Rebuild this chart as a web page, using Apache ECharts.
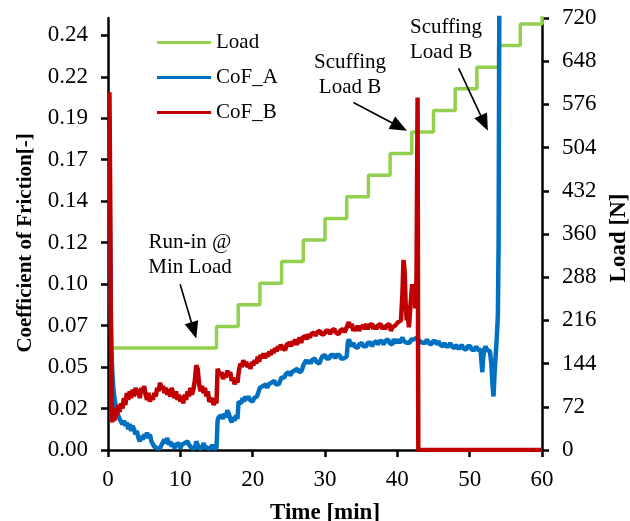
<!DOCTYPE html>
<html><head><meta charset="utf-8">
<script src="https://cdn.jsdelivr.net/npm/echarts@6/dist/echarts.min.js"></script>
<style>html,body{margin:0;padding:0;background:#fff}#c{width:630px;height:521px}</style>
</head><body><div id="c"></div>
<script>
// ---- data ----
const xTicks = [0, 10, 20, 30, 40, 50, 60];
const cofTicks = [0, 0.024, 0.048, 0.072, 0.096, 0.12, 0.144, 0.168, 0.192, 0.216, 0.24];
const loadTicks = [0, 72, 144, 216, 288, 360, 432, 504, 576, 648, 720];

// Load steps [time min, load N] (step holds value until next time)
const loadSteps = [[0.6,170],[15,206],[18,242],[21,278],[24,314],[27,350],[30,386],[33,422],[36,458],[39,494],[42,530],[45,566],[48,602],[51,638],[54,674],[57,710],[60,746]];

const cofA = [[0.2,0.165],[0.3,0.12],[0.4,0.075],[0.5,0.055],[0.6,0.045],[0.75,0.035],[0.9,0.03],[1.05,0.026],[1.2,0.024],[1.4,0.02],[1.6,0.018],[1.8,0.019],[2.0,0.015],[2.2,0.017],[2.4,0.014],[2.6,0.016],[2.8,0.012],[3.0,0.015],[3.2,0.011],[3.4,0.014],[3.6,0.012],[3.8,0.009],[4.0,0.011],[4.2,0.007],[4.4,0.005],[4.6,0.008],[4.8,0.006],[5.0,0.009],[5.2,0.007],[5.4,0.01],[5.6,0.007],[5.8,0.009],[6.0,0.005],[6.2,0.004],[6.4,0.002],[6.6,0.003],[6.8,0.001],[7.0,0.002],[7.2,0.001],[7.4,0.003],[7.6,0.002],[7.8,0.006],[8.0,0.004],[8.2,0.007],[8.4,0.003],[8.6,0.005],[8.8,0.002],[9.0,0.004],[9.2,0.001],[9.4,0.003],[9.6,0.002],[9.8,0.004],[10.0,0.001],[10.2,0.003],[10.4,0.002],[10.6,0.004],[10.8,0.003],[11.0,0.005],[11.2,0.003],[11.4,0.004],[11.6,0.001],[11.8,0.002],[12.0,0.001],[12.2,0.005],[12.4,0.003],[12.6,0.001],[12.8,0.002],[13.0,0.001],[13.2,0.004],[13.4,0.002],[13.6,0.003],[13.8,0.001],[14.0,0.002],[14.2,0.001],[14.4,0.003],[14.6,0.001],[14.8,0.002],[15.0,0.001],[15.15,0.017],[15.3,0.019],[15.5,0.018],[15.7,0.02],[15.9,0.018],[16.1,0.021],[16.3,0.019],[16.5,0.023],[16.7,0.021],[16.9,0.018],[17.1,0.016],[17.3,0.019],[17.5,0.017],[17.7,0.02],[17.9,0.018],[18.05,0.028],[18.2,0.029],[18.4,0.027],[18.6,0.03],[18.8,0.028],[19.0,0.031],[19.2,0.029],[19.4,0.031],[19.6,0.029],[19.8,0.03],[20.0,0.028],[20.2,0.03],[20.4,0.029],[20.6,0.031],[20.8,0.03],[21.0,0.036],[21.2,0.035],[21.4,0.037],[21.6,0.036],[21.8,0.038],[22.0,0.036],[22.2,0.038],[22.4,0.037],[22.6,0.039],[22.8,0.038],[23.0,0.04],[23.2,0.038],[23.4,0.039],[23.6,0.038],[23.8,0.04],[24.0,0.042],[24.2,0.043],[24.4,0.042],[24.6,0.044],[24.8,0.043],[25.0,0.045],[25.2,0.043],[25.4,0.045],[25.6,0.044],[25.8,0.046],[26.0,0.045],[26.2,0.047],[26.4,0.045],[26.6,0.044],[26.8,0.046],[27.0,0.049],[27.2,0.05],[27.4,0.052],[27.6,0.05],[27.8,0.052],[28.0,0.05],[28.2,0.052],[28.4,0.051],[28.6,0.053],[28.8,0.051],[29.0,0.052],[29.2,0.05],[29.4,0.052],[29.6,0.054],[29.8,0.053],[30.0,0.055],[30.2,0.053],[30.4,0.054],[30.6,0.053],[30.8,0.055],[31.0,0.054],[31.2,0.055],[31.4,0.053],[31.6,0.055],[31.8,0.054],[32.0,0.055],[32.2,0.053],[32.4,0.054],[32.6,0.053],[32.8,0.052],[33.0,0.054],[33.15,0.062],[33.3,0.064],[33.5,0.062],[33.7,0.06],[33.9,0.062],[34.1,0.06],[34.3,0.061],[34.5,0.059],[34.7,0.061],[34.9,0.06],[35.1,0.062],[35.3,0.06],[35.5,0.061],[35.7,0.06],[35.9,0.062],[36.1,0.061],[36.3,0.062],[36.5,0.06],[36.7,0.062],[36.9,0.061],[37.1,0.063],[37.3,0.061],[37.5,0.063],[37.7,0.062],[37.9,0.063],[38.1,0.061],[38.3,0.063],[38.5,0.062],[38.7,0.064],[38.9,0.062],[39.1,0.063],[39.3,0.061],[39.5,0.064],[39.7,0.063],[39.9,0.062],[40.1,0.064],[40.3,0.062],[40.5,0.063],[40.7,0.065],[40.9,0.063],[41.1,0.064],[41.3,0.062],[41.5,0.063],[41.7,0.062],[41.9,0.064],[42.1,0.065],[42.3,0.064],[42.5,0.063],[42.7,0.065],[42.9,0.064],[43.1,0.063],[43.3,0.064],[43.5,0.062],[43.7,0.063],[43.9,0.062],[44.1,0.064],[44.3,0.062],[44.5,0.063],[44.7,0.061],[44.9,0.063],[45.1,0.062],[45.3,0.063],[45.5,0.061],[45.7,0.063],[45.9,0.061],[46.1,0.062],[46.3,0.06],[46.5,0.062],[46.7,0.06],[46.9,0.061],[47.1,0.06],[47.3,0.062],[47.5,0.06],[47.7,0.061],[47.9,0.059],[48.1,0.061],[48.3,0.059],[48.5,0.06],[48.7,0.059],[48.9,0.061],[49.1,0.059],[49.3,0.06],[49.5,0.058],[49.7,0.06],[49.9,0.059],[50.1,0.06],[50.3,0.058],[50.5,0.059],[50.7,0.058],[50.9,0.06],[51.1,0.058],[51.3,0.059],[51.5,0.058],[51.65,0.05],[51.75,0.045],[51.85,0.052],[52.0,0.058],[52.2,0.06],[52.4,0.058],[52.6,0.059],[52.8,0.057],[53.0,0.05],[53.15,0.038],[53.3,0.031],[53.45,0.045],[53.6,0.055],[53.75,0.065],[53.9,0.078],[54.0,0.12],[54.1,0.26]];

const cofB = [[0.2,0.207],[0.3,0.15],[0.4,0.07],[0.5,0.03],[0.6,0.016],[0.75,0.022],[0.9,0.017],[1.05,0.024],[1.2,0.02],[1.4,0.026],[1.6,0.022],[1.8,0.027],[2.0,0.024],[2.2,0.03],[2.4,0.026],[2.6,0.033],[2.8,0.029],[3.0,0.034],[3.2,0.03],[3.4,0.035],[3.6,0.031],[3.8,0.036],[4.0,0.032],[4.2,0.035],[4.4,0.03],[4.6,0.036],[4.8,0.033],[5.0,0.037],[5.2,0.032],[5.4,0.029],[5.6,0.033],[5.8,0.028],[6.0,0.031],[6.2,0.029],[6.4,0.033],[6.6,0.031],[6.8,0.036],[7.0,0.034],[7.2,0.039],[7.4,0.035],[7.6,0.037],[7.8,0.033],[8.0,0.036],[8.2,0.032],[8.4,0.035],[8.6,0.031],[8.8,0.036],[9.0,0.033],[9.2,0.03],[9.4,0.034],[9.6,0.029],[9.8,0.032],[10.0,0.028],[10.2,0.031],[10.4,0.027],[10.6,0.032],[10.8,0.029],[11.0,0.034],[11.2,0.031],[11.4,0.036],[11.6,0.032],[11.8,0.035],[12.0,0.04],[12.2,0.049],[12.4,0.047],[12.6,0.038],[12.8,0.034],[13.0,0.037],[13.2,0.033],[13.4,0.036],[13.6,0.031],[13.8,0.034],[14.0,0.028],[14.2,0.027],[14.4,0.03],[14.6,0.026],[14.8,0.029],[15.0,0.027],[15.15,0.047],[15.3,0.048],[15.5,0.043],[15.7,0.045],[15.9,0.041],[16.1,0.044],[16.3,0.042],[16.5,0.046],[16.7,0.043],[16.9,0.045],[17.1,0.04],[17.3,0.042],[17.5,0.038],[17.7,0.041],[17.9,0.039],[18.1,0.046],[18.3,0.05],[18.5,0.048],[18.7,0.052],[18.9,0.049],[19.1,0.051],[19.3,0.048],[19.5,0.05],[19.7,0.047],[19.9,0.051],[20.1,0.049],[20.3,0.052],[20.5,0.05],[20.7,0.054],[20.9,0.051],[21.1,0.055],[21.3,0.053],[21.5,0.056],[21.7,0.053],[21.9,0.056],[22.1,0.054],[22.3,0.057],[22.5,0.055],[22.7,0.058],[22.9,0.056],[23.1,0.059],[23.3,0.057],[23.5,0.06],[23.7,0.058],[23.9,0.061],[24.1,0.059],[24.3,0.06],[24.5,0.058],[24.7,0.061],[24.9,0.06],[25.1,0.062],[25.3,0.06],[25.5,0.063],[25.7,0.061],[25.9,0.064],[26.1,0.061],[26.3,0.063],[26.5,0.065],[26.7,0.062],[26.9,0.065],[27.1,0.064],[27.3,0.066],[27.5,0.064],[27.7,0.067],[27.9,0.065],[28.1,0.067],[28.3,0.066],[28.5,0.068],[28.7,0.066],[28.9,0.068],[29.1,0.067],[29.3,0.069],[29.5,0.067],[29.7,0.068],[29.9,0.067],[30.1,0.069],[30.3,0.068],[30.5,0.069],[30.7,0.067],[30.9,0.069],[31.1,0.068],[31.3,0.07],[31.5,0.068],[31.7,0.069],[31.9,0.067],[32.1,0.069],[32.3,0.068],[32.5,0.07],[32.7,0.068],[32.9,0.069],[33.1,0.072],[33.3,0.074],[33.5,0.071],[33.7,0.073],[33.9,0.069],[34.1,0.071],[34.3,0.069],[34.5,0.072],[34.7,0.069],[34.9,0.071],[35.1,0.07],[35.3,0.072],[35.5,0.07],[35.7,0.073],[35.9,0.07],[36.1,0.072],[36.3,0.071],[36.5,0.073],[36.7,0.07],[36.9,0.072],[37.1,0.07],[37.3,0.072],[37.5,0.071],[37.7,0.073],[37.9,0.07],[38.1,0.072],[38.3,0.07],[38.5,0.072],[38.7,0.071],[38.9,0.073],[39.1,0.069],[39.3,0.071],[39.5,0.07],[39.7,0.072],[39.9,0.071],[40.1,0.074],[40.3,0.073],[40.5,0.075],[40.7,0.09],[40.85,0.11],[41.0,0.104],[41.15,0.085],[41.3,0.075],[41.45,0.078],[41.6,0.071],[41.75,0.08],[41.9,0.088],[42.05,0.096],[42.2,0.084],[42.35,0.09],[42.5,0.082],[42.65,0.1],[42.8,0.204],[42.9,0],[60,0]];

// annotation arrows in data coords (time, CoF): [start, end]
const arrows = [
  [[9.97, 0.0959], [11.87, 0.0692]],
  [[33.93, 0.2011], [40.29, 0.1871]],
  [[48.48, 0.2208], [52.02, 0.1892]]
];

const FONT = '"Liberation Serif","Times New Roman",serif';
const chart = echarts.init(document.getElementById('c'), null, {renderer: 'canvas'});
const axisLine = {show: true, lineStyle: {color: '#000', width: 2.5}};
const axisTick = {show: true, inside: false, length: 7, lineStyle: {color: '#000', width: 2.5}};

chart.setOption({
  animation: false,
  backgroundColor: '#fff',
  grid: {left: 108, right: 88, top: 18, bottom: 71, containLabel: false, outerBoundsMode: 'none'},
  legend: {
    orient: 'vertical', left: 157, top: 32, padding: 0, itemWidth: 54, itemHeight: 3, itemGap: 14,
    icon: 'rect',
    textStyle: {fontFamily: FONT, fontSize: 21, color: '#000'},
    data: ['Load', 'CoF_A', 'CoF_B']
  },
  xAxis: {
    type: 'value', min: 0, max: 60, interval: 10,
    name: 'Time [min]', nameLocation: 'middle', nameGap: 52,
    nameTextStyle: {fontFamily: FONT, fontSize: 23, fontWeight: 'bold', color: '#000'},
    axisLine, axisTick,
    axisLabel: {fontFamily: FONT, fontSize: 23, color: '#000', margin: 18,
      customValues: xTicks},
    splitLine: {show: false}
  },
  yAxis: [{
    type: 'value', min: 0, max: 0.25, position: 'left',
    name: 'Coefficient of Friction[-]', nameLocation: 'middle', nameGap: 72, nameRotate: 90,
    nameTextStyle: {fontFamily: FONT, fontSize: 21, fontWeight: 'bold', color: '#000', padding: [0, 18, 0, 0]},
    axisLine, axisTick: Object.assign({customValues: cofTicks}, axisTick),
    axisLabel: {fontFamily: FONT, fontSize: 23, color: '#000', margin: 20,
      customValues: cofTicks, formatter: v => v.toFixed(2)},
    splitLine: {show: false}
  }, {
    type: 'value', min: 0, max: 720, interval: 72, position: 'right',
    name: 'Load [N]', nameLocation: 'middle', nameGap: 62, nameRotate: 90,
    nameTextStyle: {fontFamily: FONT, fontSize: 23, fontWeight: 'bold', color: '#000', padding: [0, 8, 0, 0]},
    axisLine, axisTick,
    axisLabel: {fontFamily: FONT, fontSize: 23, color: '#000', margin: 20},
    splitLine: {show: false}
  }],
  series: [{
    name: 'Load', type: 'line', yAxisIndex: 1, step: 'end', showSymbol: false,
    lineStyle: {color: '#92D050', width: 3.5}, itemStyle: {color: '#92D050'},
    data: loadSteps
  }, {
    name: 'CoF_A', type: 'line', yAxisIndex: 0, showSymbol: false,
    lineStyle: {color: '#0070C0', width: 4.5}, itemStyle: {color: '#0070C0'},
    data: cofA
  }, {
    name: 'CoF_B', type: 'line', yAxisIndex: 0, showSymbol: false,
    lineStyle: {color: '#C00000', width: 4.5}, itemStyle: {color: '#C00000'},
    data: cofB,
    markLine: {
      silent: true, symbol: ['none', 'triangle'], symbolSize: [14, 17],
      lineStyle: {color: '#000', width: 1.6, type: 'solid'},
      itemStyle: {color: '#000'},
      label: {show: false}, emphasis: {disabled: true},
      data: arrows.map(a => [{coord: a[0]}, {coord: a[1]}])
    }
  }],
  graphic: [
    {type: 'text', x: 190, y: 230, style: {text: 'Run-in @\nMin Load', fontFamily: FONT, fontSize: 21, lineHeight: 25, fill: '#000', align: 'center'}},
    {type: 'text', x: 350, y: 50, style: {text: 'Scuffing\nLoad B', fontFamily: FONT, fontSize: 21, lineHeight: 25, fill: '#000', align: 'center'}},
    {type: 'text', x: 410, y: 15, style: {text: 'Scuffing\nLoad B', fontFamily: FONT, fontSize: 21, lineHeight: 25, fill: '#000', align: 'left'}}
  ]
});
</script></body></html>
